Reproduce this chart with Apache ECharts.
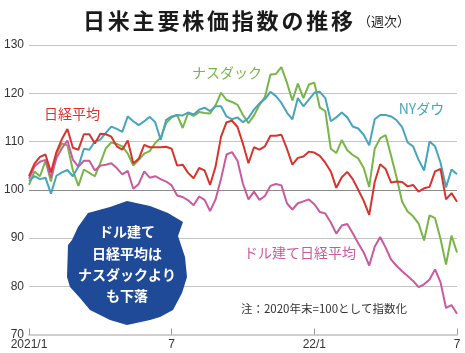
<!DOCTYPE html>
<html>
<head>
<meta charset="utf-8">
<script src="https://cdn.jsdelivr.net/npm/echarts@6/dist/echarts.min.js"></script>
<style>
html, body { margin: 0; padding: 0; background: #fff; }
#chart { width: 465px; height: 353px; }
</style>
</head>
<body>
<div id="chart"></div>
<script>
// weekly index values, end of 2020 = 100
const nikkei = [102.8,105.4,106.8,107.3,103.6,107.8,110.5,112.6,108.7,108.3,
  111.5,111.5,109.6,111.6,111.5,111.0,109.0,108.3,110.2,105.5,
  106.4,109.3,108.8,108.8,108.8,108.9,108.5,105.0,105.2,103.5,
  102.4,104.5,104.0,101.0,104.8,111.0,114.0,114.3,113.0,109.5,
  105.5,108.8,108.3,109.0,111.2,111.2,111.4,108.5,105.2,106.6,
  106.9,107.9,107.7,107.0,105.6,103.8,100.4,102.6,103.7,102.2,
  100.0,97.7,94.8,101.6,105.3,104.3,101.5,101.7,101.6,100.7,
  101.0,99.6,100.3,100.6,103.8,104.3,98.0,99.3,97.5]
const nasdaq = [101.0,103.8,102.8,106.0,101.7,107.5,109.6,109.2,104.0,100.8,
  104.2,103.5,102.8,105.5,108.6,109.8,109.5,109.0,107.5,105.0,
  106.2,107.5,108.0,109.7,110.8,113.8,115.0,115.5,112.8,115.9,
  115.3,116.1,115.9,115.8,117.5,120.1,118.6,118.2,117.6,115.5,
  113.8,115.4,117.6,119.2,123.9,124.0,125.4,122.2,118.5,122.0,
  119.0,121.8,122.2,117.0,116.3,108.5,107.6,110.3,108.2,107.2,
  106.5,104.5,100.6,108.5,110.7,111.3,107.0,102.5,97.5,95.5,
  94.5,93.0,89.5,94.7,94.1,89.8,84.5,90.5,87.0]
const dow = [101.8,102.8,102.2,102.5,99.2,102.9,103.6,104.1,102.8,104.8,
  108.5,108.3,110.0,110.4,111.8,113.1,112.6,112.0,115.2,114.2,
  113.4,114.2,115.1,114.0,110.3,114.5,115.2,115.5,115.4,116.0,
  115.6,116.6,117.0,116.3,117.3,117.3,115.2,114.6,115.0,114.0,
  114.9,116.6,117.9,118.8,120.3,119.4,118.0,116.0,114.6,119.0,
  117.3,118.7,120.1,120.3,119.0,114.2,115.0,116.0,115.0,113.1,
  112.7,111.4,109.2,114.6,115.5,115.5,115.2,114.4,113.0,109.8,
  109.0,106.2,104.0,110.0,109.0,105.6,100.5,104.2,103.2]
const nikkeiUsd = [102.3,104.8,105.8,106.2,102.5,106.6,108.6,110.2,106.2,104.8,
  106.0,106.0,104.0,105.0,105.2,105.5,104.5,103.2,103.9,100.2,
  101.2,103.8,102.5,102.8,102.2,101.7,100.9,98.8,98.5,97.8,
  96.8,98.6,97.9,95.6,98.0,102.3,107.3,107.8,106.0,101.2,
  98.0,99.6,97.9,98.7,100.8,101.2,100.9,97.2,95.9,97.2,
  97.6,98.0,97.0,95.4,95.1,93.2,90.9,92.6,92.9,91.0,
  88.9,87.0,84.3,88.2,90.2,88.0,85.5,84.2,83.1,82.1,
  81.1,79.8,80.4,81.4,83.5,80.8,75.5,76.1,74.3]

// x tick labels by week index
const tickLabels = { 0: '2021/1', 26: '7', 52: '22/1', 78: '7' }

// weekly categories (Fridays) from 2021/1/8
const weeks = []
const start = new Date(2021, 0, 8)
for (let i = 0; i < nikkei.length; i++) {
  const d = new Date(start)
  d.setDate(start.getDate() + i * 7)
  weeks.push(`${d.getFullYear()}/${d.getMonth() + 1}/${d.getDate()}`)
}

const RED = '#d6342c'
const GREEN = '#78b548'
const TEAL = '#48a4bd'
const PINK = '#c95a9e'
const NAVY = '#1f4a97'
const CJK = '"Noto Sans CJK JP", sans-serif'

const title = '日米主要株価指数の推移'
const titleChars = title.split('').map((ch, k) => ({
  type: 'text',
  x: 94 + k * 24.8,
  y: 21,
  style: { text: ch, font: `bold 22px ${CJK}`, fill: '#1a1a1a', textAlign: 'center', textVerticalAlign: 'middle' }
}))

const badgeLines = ['ドル建て', '日経平均は', 'ナスダックより', 'も下落']
const badgeText = badgeLines.map((t, k) => ({
  type: 'text',
  x: 127,
  y: 232 + k * 21.3,
  z: 101,
  style: { text: t, font: `bold 14px ${CJK}`, fill: '#fff', textAlign: 'center', textVerticalAlign: 'middle' }
}))

function label(text, x, y, color, size) {
  return {
    type: 'text', x: x, y: y, z: 50,
    style: { text: text, font: `${size}px ${CJK}`, fill: color, textAlign: 'center', textVerticalAlign: 'middle' }
  }
}

const chart = echarts.init(document.getElementById('chart'))
const lineSeries = (name, data, color) => ({
  name: name,
  type: 'line',
  data: data,
  showSymbol: false,
  symbol: 'none',
  lineStyle: { width: 2, color: color },
  itemStyle: { color: color }
})

chart.setOption({
  animation: false,
  grid: { left: 29, right: 8, top: 45, bottom: 18.5 },
  xAxis: {
    type: 'category',
    boundaryGap: false,
    data: weeks,
    axisLine: { lineStyle: { color: '#cfcfcf', width: 2 } },
    axisTick: {
      inside: true,
      length: 6,
      interval: (idx) => tickLabels[idx] !== undefined,
      lineStyle: { color: '#999' }
    },
    axisLabel: {
      interval: (idx) => tickLabels[idx] !== undefined,
      formatter: (val, idx) => tickLabels[idx] || '',
      color: '#333',
      fontSize: 12,
      fontFamily: 'Liberation Sans',
      margin: 4
    }
  },
  yAxis: {
    type: 'value',
    min: 70,
    max: 130,
    interval: 10,
    axisLine: { show: false },
    axisTick: { show: false },
    axisLabel: { color: '#333', fontSize: 12, fontFamily: 'Liberation Sans', margin: 5 },
    splitLine: {
      lineStyle: {
        color: ['#cfcfcf', '#c4c4c4', '#c4c4c4', '#8a8a8a', '#c4c4c4', '#c4c4c4', '#c4c4c4'],
        width: 1
      }
    }
  },
  series: [
    lineSeries('ナスダック', nasdaq, GREEN),
    lineSeries('NYダウ', dow, TEAL),
    lineSeries('ドル建て日経平均', nikkeiUsd, PINK),
    lineSeries('日経平均', nikkei, RED)
  ],
  graphic: [
    ...titleChars,
    {
      type: 'text', x: 358, y: 21,
      style: { text: '（週次）', font: `13px ${CJK}`, fill: '#1a1a1a', textAlign: 'left', textVerticalAlign: 'middle' }
    },
    label('日経平均', 72, 114, RED, 14),
    label('ナスダック', 227, 72.5, GREEN, 14),
    label('NYダウ', 421.5, 109, TEAL, 14),
    label('ドル建て日経平均', 300, 253, PINK, 14),
    label('注：2020年末=100として指数化', 324, 309, '#333', 11.5),
    {
      type: 'polygon',
      z: 100,
      shape: {
        points: [[127, 201], [150, 206], [168, 213], [183, 222], [178, 236], [185, 257],
          [187, 277], [182, 293], [173, 310], [160, 317], [150, 320], [127, 325],
          [110, 320], [90, 310], [80, 298], [70, 287], [67, 277], [68, 245],
          [72, 240], [78, 227], [88, 213], [110, 207]]
      },
      style: { fill: NAVY }
    },
    ...badgeText
  ]
})
</script>
</body>
</html>
